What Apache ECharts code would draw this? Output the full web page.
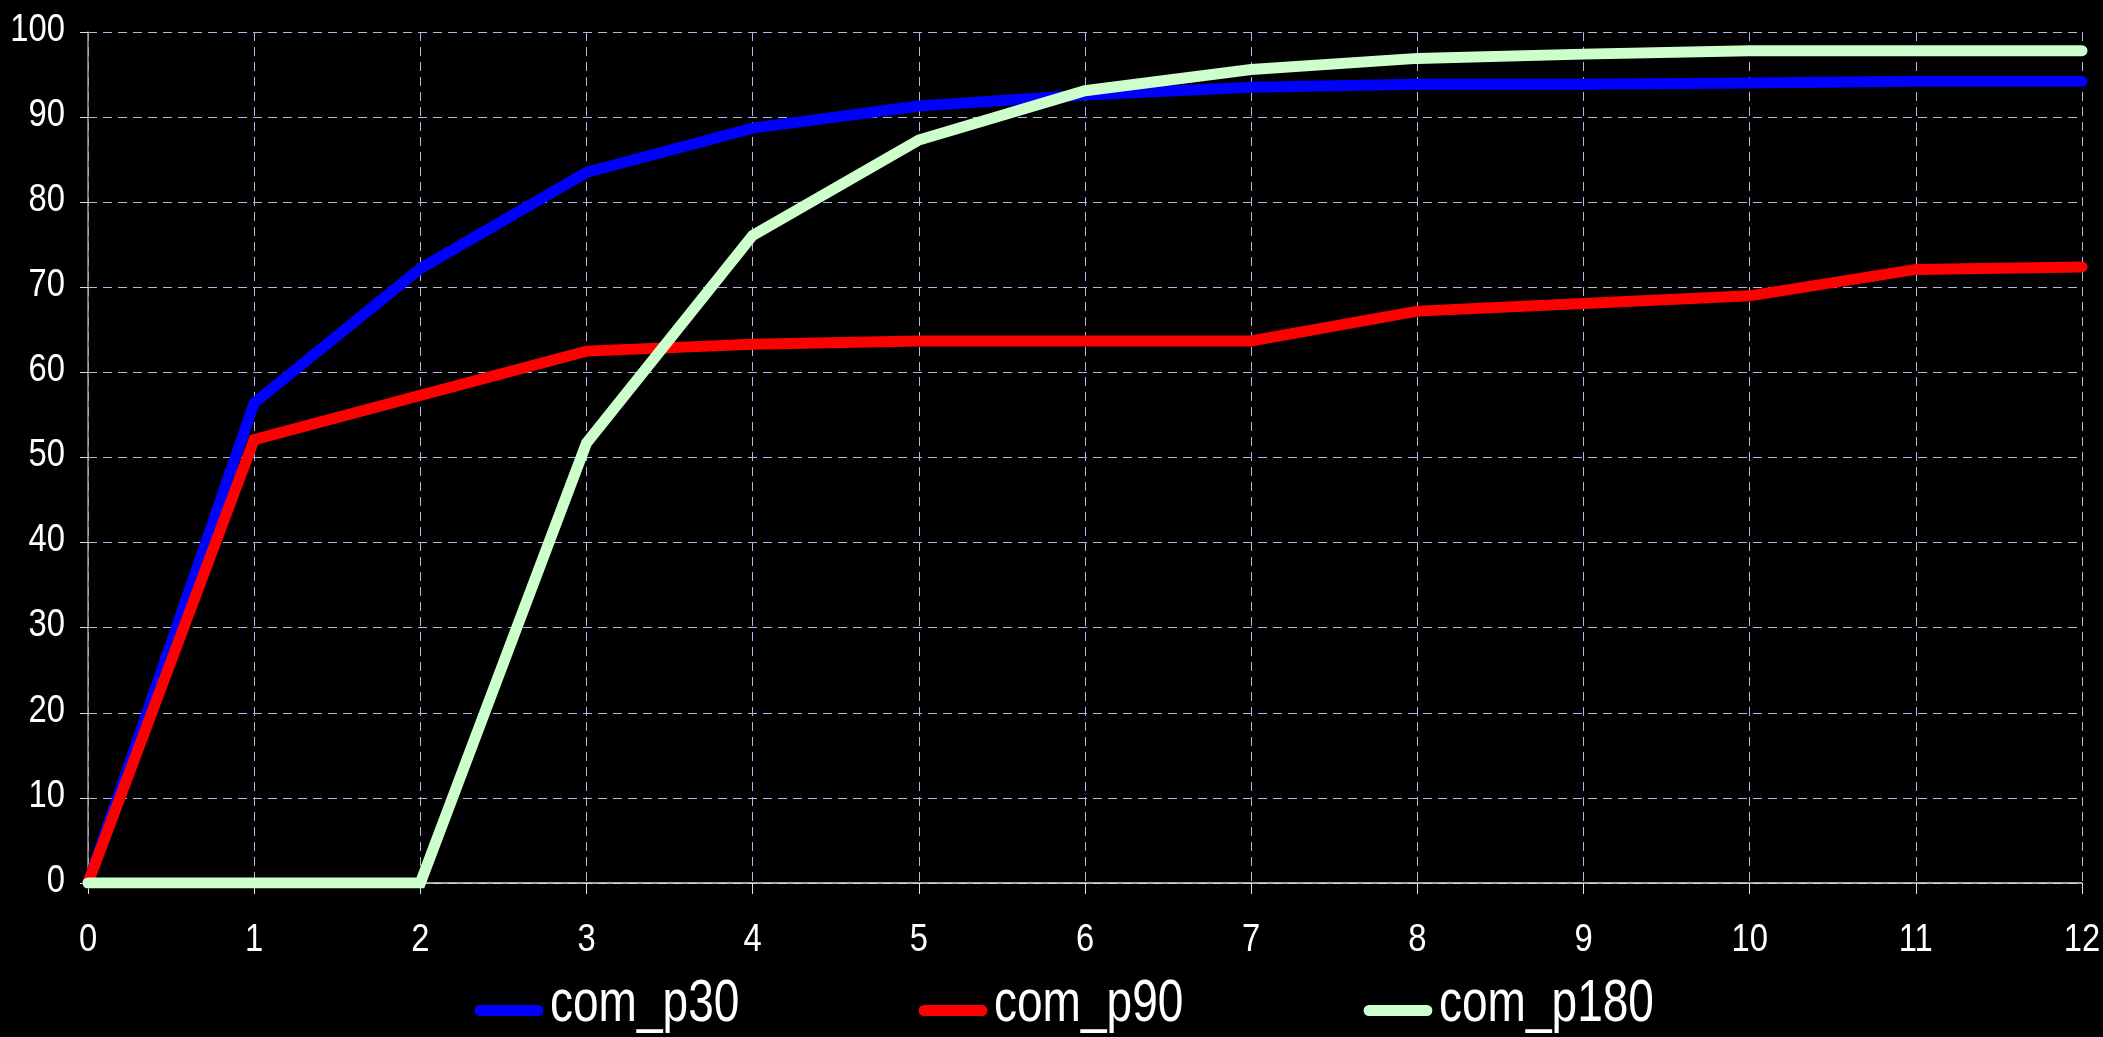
<!DOCTYPE html>
<html>
<head>
<meta charset="utf-8">
<script src="https://cdn.jsdelivr.net/npm/echarts@6/dist/echarts.min.js"></script>
<style>
html,body{margin:0;padding:0;background:#000;}
#chart{width:2103px;height:1037px;}
</style>
</head>
<body>
<div id="chart"></div>
<script>
const categories = ['0','1','2','3','4','5','6','7','8','9','10','11','12'];
const comP30  = [0, 56.4, 72.2, 83.5, 88.7, 91.3, 92.6, 93.5, 93.85, 93.85, 94.0, 94.2, 94.2];
const comP90  = [0, 52.1, 57.3, 62.5, 63.3, 63.7, 63.7, 63.7, 67.2, 68.1, 69.0, 72.1, 72.4];
const comP180 = [0, 0, 0, 51.7, 76.1, 87.3, 93.1, 95.6, 96.9, 97.4, 97.8, 97.8, 97.8];
const seriesNames = ['com_p30', 'com_p90', 'com_p180'];
const seriesColors = ['#0000ff', '#ff0000', '#ccffcc'];
const yTickLabels = ['0','10','20','30','40','50','60','70','80','90','100'];
const yTicks = {min: 0, max: 100, interval: 10};

// Narrow sans (Arial Narrow look) made from Liberation Sans squeezed horizontally
const FONT = '"Liberation Sans", Arial, sans-serif';
const LABEL_SIZE = 39;
const LABEL_NARROW = 0.84;
const LEGEND_SIZE = 59;
const LEGEND_NARROW = 0.78;
const capsule = 'path://M6,0 L69,0 A6,6 0 0 1 69,12 L6,12 A6,6 0 0 1 6,0 Z';
const gridLine = {show: true, lineStyle: {color: '#b4b4e6', width: 1, type: [9, 6]}};
const legendLefts = [466, 910, 1355];
const legendTextGap = 8;

const chart = echarts.init(document.getElementById('chart'), null, {renderer: 'canvas'});
chart.setOption({
  backgroundColor: '#000000',
  animation: false,
  grid: {left: 88, right: 21, top: 32, bottom: 154, containLabel: false},
  legend: seriesNames.map((n, i) => ({
    data: [n],
    left: legendLefts[i],
    top: 1000,
    icon: capsule,
    itemWidth: 76,
    itemHeight: 11,
    itemGap: 0,
    formatter: () => '',
    textStyle: {color: '#ffffff', fontSize: 11, fontFamily: FONT, padding: 0}
  })),
  xAxis: {
    type: 'category',
    data: categories,
    boundaryGap: false,
    axisLine: {show: true, lineStyle: {color: '#e0e0e0', width: 1.5}},
    axisTick: {show: true, length: 11, inside: false, interval: 0, lineStyle: {color: '#e0e0e0'}},
    axisLabel: {show: false},
    splitLine: Object.assign({interval: 0}, gridLine)
  },
  yAxis: {
    type: 'value',
    min: yTicks.min, max: yTicks.max, interval: yTicks.interval,
    axisLine: {show: true, lineStyle: {color: '#a0a0a0', width: 1.5}},
    axisTick: {show: true, length: 8, lineStyle: {color: '#e0e0e0'}},
    axisLabel: {show: false},
    splitLine: gridLine
  },
  series: [comP30, comP90, comP180].map((d, i) => ({
    name: seriesNames[i],
    type: 'line',
    data: d,
    showSymbol: false,
    symbol: 'none',
    color: seriesColors[i],
    lineStyle: {color: seriesColors[i], width: 11, cap: 'round', join: 'miter'}
  }))
});

// Tick labels and legend names as narrow text, placed through the chart's own scales
const graphics = [];
const x0 = chart.convertToPixel({xAxisIndex: 0}, categories[0]);
const yBase = chart.convertToPixel({yAxisIndex: 0}, yTicks.min);
categories.forEach(c => {
  const px = chart.convertToPixel({xAxisIndex: 0}, c);
  graphics.push({
    type: 'text', x: px, y: yBase + 57, scaleX: LABEL_NARROW, silent: true,
    style: {text: c, fill: '#ffffff', font: LABEL_SIZE + 'px ' + FONT, textAlign: 'center', textVerticalAlign: 'middle'}
  });
});
yTickLabels.forEach(t => {
  const py = chart.convertToPixel({yAxisIndex: 0}, Number(t));
  graphics.push({
    type: 'text', x: x0 - 23, y: py - 2, scaleX: LABEL_NARROW, silent: true,
    style: {text: t, fill: '#ffffff', font: LABEL_SIZE + 'px ' + FONT, textAlign: 'right', textVerticalAlign: 'middle'}
  });
});
seriesNames.forEach((n, i) => {
  graphics.push({
    type: 'text', x: legendLefts[i] + 76 + legendTextGap, y: 1005, scaleX: LEGEND_NARROW, silent: true,
    style: {text: n, fill: '#ffffff', font: LEGEND_SIZE + 'px ' + FONT, textAlign: 'left', textVerticalAlign: 'middle'}
  });
});
chart.setOption({graphic: graphics});
</script>
</body>
</html>
